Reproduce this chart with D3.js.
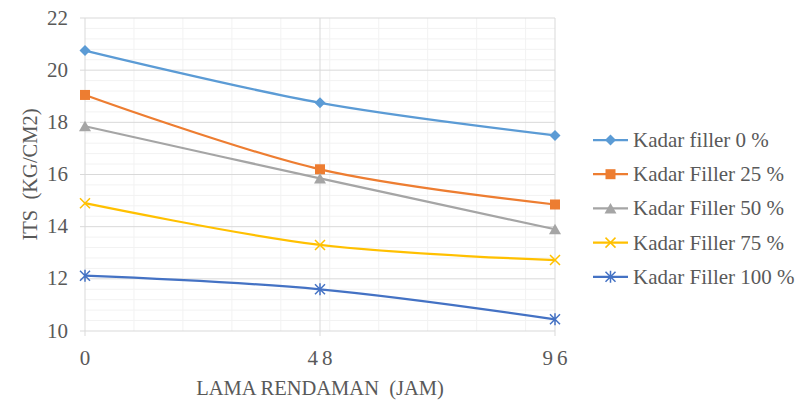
<!DOCTYPE html>
<html>
<head>
<meta charset="utf-8">
<script src="https://cdn.jsdelivr.net/npm/d3@7"></script>
<style>
  html, body { margin: 0; padding: 0; background: #ffffff; }
  svg { display: block; }
</style>
</head>
<body>
<svg id="chart" width="804" height="401"></svg>
<script>
// Soaking time (hours) on the x axis
const hours = [0, 48, 96];
const xTicks = [0, 48, 96];
const yTicks = [10, 12, 14, 16, 18, 20, 22];

// ITS values (kg/cm2) for each filler content
const filler0 = [20.75, 18.75, 17.5];
const filler25 = [19.05, 16.2, 14.85];
const filler50 = [17.85, 15.85, 13.9];
const filler75 = [14.9, 13.3, 12.72];
const filler100 = [12.12, 11.6, 10.45];

const seriesNames = ["Kadar filler 0 %", "Kadar Filler 25 %", "Kadar Filler 50 %", "Kadar Filler 75 %", "Kadar Filler 100 %"];
const seriesValues = [filler0, filler25, filler50, filler75, filler100];
const seriesColors = ["#5B9BD5", "#ED7D31", "#A5A5A5", "#FFC000", "#4472C4"];
const seriesMarkers = ["diamond", "square", "triangle", "cross", "asterisk"];

const FONT = "'Liberation Serif', serif";
const TEXT = "#595959";

const svg = d3.select("#chart");
const margin = { left: 85, right: 249, top: 18, bottom: 70 };
const W = 804, H = 401;
const x = d3.scaleLinear().domain([0, 96]).range([margin.left, W - margin.right]);
const y = d3.scaleLinear().domain([10, 22]).range([H - margin.bottom, margin.top]);

const grid = svg.append("g");
// minor grid
const minorX = d3.range(10, 96, 10);
const minorY = d3.range(10, 22.001, 0.4).filter(v => Math.abs(v / 2 - Math.round(v / 2)) > 1e-6);
grid.selectAll(".mx").data(minorX).join("line")
  .attr("x1", d => x(d)).attr("x2", d => x(d))
  .attr("y1", y(10)).attr("y2", y(22))
  .attr("stroke", "#F2F2F2").attr("stroke-width", 1);
grid.selectAll(".my").data(minorY).join("line")
  .attr("x1", x(0)).attr("x2", x(96))
  .attr("y1", d => y(d)).attr("y2", d => y(d))
  .attr("stroke", "#F2F2F2").attr("stroke-width", 1);
// major grid with outside tick marks
grid.selectAll(".Mx").data(xTicks).join("line")
  .attr("x1", d => x(d)).attr("x2", d => x(d))
  .attr("y1", y(10) + 5).attr("y2", y(22))
  .attr("stroke", "#D9D9D9").attr("stroke-width", 1);
grid.selectAll(".My").data(yTicks).join("line")
  .attr("x1", x(0) - 5).attr("x2", x(96))
  .attr("y1", d => y(d)).attr("y2", d => y(d))
  .attr("stroke", "#D9D9D9").attr("stroke-width", 1);

// tick labels
svg.append("g").selectAll("text").data(yTicks).join("text")
  .attr("x", 68).attr("y", d => y(d) + 6.5)
  .attr("text-anchor", "end").attr("font-size", 21).attr("fill", TEXT)
  .style("font-family", FONT)
  .text(d => d);
svg.append("g").selectAll("text").data(xTicks).join("text")
  .attr("x", d => x(d) + 2).attr("y", 365)
  .attr("text-anchor", "middle").attr("font-size", 21).attr("fill", TEXT)
  .attr("letter-spacing", 4)
  .style("font-family", FONT)
  .text(d => d);

// axis titles
svg.append("text")
  .attr("x", (x(0) + x(96)) / 2).attr("y", 395)
  .attr("text-anchor", "middle").attr("font-size", 20.5).attr("fill", TEXT)
  .attr("xml:space", "preserve")
  .style("font-family", FONT).style("white-space", "pre")
  .text("LAMA RENDAMAN  (JAM)");
svg.append("text")
  .attr("transform", `translate(37,${(y(10) + y(22)) / 2}) rotate(-90)`)
  .attr("text-anchor", "middle").attr("font-size", 20.5).attr("fill", TEXT)
  .attr("xml:space", "preserve")
  .style("font-family", FONT).style("white-space", "pre")
  .text("ITS  (KG/CM2)");

// marker drawing
function drawMarker(g, type, color, cx, cy) {
  const s = 5.5;
  if (type === "diamond") {
    g.append("path").attr("d", `M${cx},${cy - s}L${cx + s},${cy}L${cx},${cy + s}L${cx - s},${cy}Z`).attr("fill", color);
  } else if (type === "square") {
    g.append("rect").attr("x", cx - 5).attr("y", cy - 5).attr("width", 10).attr("height", 10).attr("fill", color);
  } else if (type === "triangle") {
    g.append("path").attr("d", `M${cx},${cy - 5.5}L${cx + 6},${cy + 5}L${cx - 6},${cy + 5}Z`).attr("fill", color);
  } else if (type === "cross") {
    g.append("path").attr("d", `M${cx - 5},${cy - 5}L${cx + 5},${cy + 5}M${cx - 5},${cy + 5}L${cx + 5},${cy - 5}`)
      .attr("stroke", color).attr("stroke-width", 1.5);
  } else if (type === "asterisk") {
    g.append("path").attr("d", `M${cx - 5},${cy - 5}L${cx + 5},${cy + 5}M${cx - 5},${cy + 5}L${cx + 5},${cy - 5}M${cx},${cy - 6}L${cx},${cy + 6}`)
      .attr("stroke", color).attr("stroke-width", 1.5);
  }
}

const line = d3.line().x((d, i) => x(hours[i])).y(d => y(d)).curve(d3.curveCatmullRom.alpha(0.5));
const plot = svg.append("g");
seriesValues.forEach((vals, k) => {
  plot.append("path").datum(vals).attr("d", line)
    .attr("fill", "none").attr("stroke", seriesColors[k]).attr("stroke-width", 2.25)
    .attr("stroke-linecap", "round");
});
seriesValues.forEach((vals, k) => {
  const g = plot.append("g");
  vals.forEach((v, i) => drawMarker(g, seriesMarkers[k], seriesColors[k], x(hours[i]), y(v)));
});

// legend
const legend = svg.append("g");
seriesNames.forEach((name, k) => {
  const ly = 140 + k * 34.2;
  const g = legend.append("g");
  g.append("line").attr("x1", 593).attr("x2", 628).attr("y1", ly).attr("y2", ly)
    .attr("stroke", seriesColors[k]).attr("stroke-width", 2.25);
  drawMarker(g, seriesMarkers[k], seriesColors[k], 610.5, ly);
  g.append("text").attr("x", 633).attr("y", ly + 7)
    .attr("font-size", 21).attr("fill", TEXT)
    .style("font-family", FONT)
    .text(name);
});
</script>
</body>
</html>
